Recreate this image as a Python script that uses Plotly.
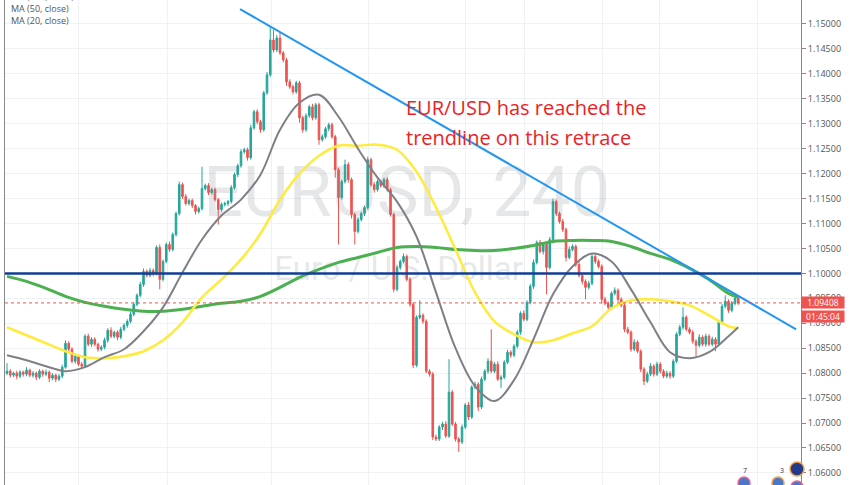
import plotly.graph_objects as go

# ---------------- data (EUR/USD, 240 min candles) ----------------
first_open = 1.0800
closes = [
    1.0804, 1.0796, 1.0800, 1.0794, 1.0802, 1.0798, 1.0806, 1.0796, 1.0800, 1.0792,
    1.0804, 1.0798, 1.0802, 1.0790, 1.0796, 1.0788, 1.0794, 1.0812, 1.0860, 1.0848,
    1.0824, 1.0834, 1.0818, 1.0814, 1.0874, 1.0858, 1.0868, 1.0858, 1.0848, 1.0852,
    1.0866, 1.0886, 1.0874, 1.0882, 1.0872, 1.0888, 1.0896, 1.0904, 1.0918, 1.0938,
    1.0956, 1.0978, 1.1004, 1.0996, 1.1006, 1.1000, 1.1052, 1.0988, 1.1024, 1.1058,
    1.1048, 1.1078, 1.1120, 1.1178, 1.1154, 1.1140, 1.1146, 1.1136, 1.1124, 1.1130,
    1.1170, 1.1176, 1.1162, 1.1168, 1.1148, 1.1128, 1.1138, 1.1140, 1.1144, 1.1172,
    1.1198, 1.1216, 1.1244, 1.1248, 1.1232, 1.1292, 1.1324, 1.1304, 1.1288, 1.1362,
    1.1398, 1.1468, 1.1448, 1.1472, 1.1442, 1.1428, 1.1384, 1.1374, 1.1364, 1.1382,
    1.1312, 1.1288, 1.1316, 1.1334, 1.1312, 1.1338, 1.1268, 1.1274, 1.1290, 1.1298,
    1.1274, 1.1208, 1.1152, 1.1184, 1.1218, 1.1188, 1.1118, 1.1084, 1.1108, 1.1120,
    1.1132, 1.1228, 1.1178, 1.1168, 1.1184, 1.1176, 1.1188, 1.1168, 1.1118, 1.0968,
    1.1012, 1.1024, 1.1034, 1.0988, 1.0938, 1.0816, 1.0912, 1.0916, 1.0904, 1.0804,
    1.0798, 1.0672, 1.0668, 1.0692, 1.0698, 1.0674, 1.0762, 1.0698, 1.0668, 1.0662,
    1.0692, 1.0736, 1.0712, 1.0772, 1.0778, 1.0732, 1.0788, 1.0804, 1.0824, 1.0804,
    1.0818, 1.0788, 1.0792, 1.0822, 1.0842, 1.0836, 1.0854, 1.0882, 1.0920, 1.0908,
    1.0942, 1.0974, 1.1022, 1.1062, 1.1044, 1.1058, 1.1012, 1.1068, 1.1144, 1.1120,
    1.1104, 1.1088, 1.1032, 1.1048, 1.1054, 1.1018, 1.0996, 1.0984, 1.0972, 1.0980,
    1.1034, 1.1024, 1.1014, 1.0948, 1.0940, 1.0932, 1.0960, 1.0966, 1.0948, 1.0936,
    1.0888, 1.0882, 1.0848, 1.0862, 1.0844, 1.0808, 1.0784, 1.0798, 1.0814, 1.0798,
    1.0818, 1.0804, 1.0794, 1.0800, 1.0794, 1.0824, 1.0878, 1.0892, 1.0912, 1.0888,
    1.0882, 1.0864, 1.0856, 1.0872, 1.0858, 1.0874, 1.0858, 1.0868, 1.0858, 1.0902,
    1.0934, 1.0944, 1.0926, 1.0940, 1.0950, 1.0941,
]
# wick lengths in pips above/below the candle body
upper_wick = [
    16, 4, 3, 5, 4, 3, 6, 3, 4, 3,
    4, 3, 5, 3, 4, 3, 4, 5, 6, 4,
    4, 5, 3, 4, 4, 5, 4, 4, 3, 4,
    5, 4, 6, 3, 4, 5, 4, 4, 5, 4,
    4, 5, 6, 4, 5, 4, 4, 6, 4, 4,
    6, 4, 4, 6, 4, 5, 4, 4, 3, 4,
    44, 4, 5, 4, 4, 3, 4, 4, 3, 5,
    4, 4, 5, 4, 4, 6, 4, 5, 4, 4,
    6, 26, 20, 6, 12, 4, 4, 5, 4, 4,
    4, 4, 5, 4, 6, 4, 4, 5, 4, 4,
    4, 4, 4, 4, 10, 5, 4, 4, 5, 4,
    4, 6, 4, 5, 4, 4, 4, 5, 4, 4,
    5, 4, 6, 4, 4, 4, 4, 30, 4, 4,
    4, 4, 5, 4, 4, 6, 66, 4, 4, 4,
    5, 4, 6, 4, 5, 4, 5, 4, 6, 64,
    4, 6, 4, 4, 5, 4, 4, 5, 4, 6,
    4, 5, 6, 4, 5, 4, 4, 5, 6, 4,
    4, 5, 4, 6, 4, 4, 5, 4, 4, 5,
    6, 4, 4, 4, 5, 4, 4, 6, 4, 4,
    4, 5, 4, 6, 4, 4, 4, 5, 6, 4,
    5, 4, 4, 5, 4, 4, 4, 5, 20, 4,
    4, 4, 4, 6, 4, 5, 4, 5, 4, 4,
    5, 12, 4, 5, 4, 4,
]
lower_wick = [
    4, 5, 4, 6, 4, 5, 4, 4, 5, 6,
    4, 5, 4, 8, 4, 6, 4, 4, 3, 4,
    4, 5, 4, 5, 4, 4, 5, 4, 5, 4,
    4, 5, 4, 4, 6, 4, 4, 5, 4, 4,
    4, 4, 5, 4, 4, 6, 4, 20, 4, 4,
    5, 4, 4, 4, 5, 4, 4, 5, 6, 4,
    4, 4, 5, 4, 4, 30, 4, 4, 5, 4,
    4, 5, 4, 4, 6, 4, 4, 5, 6, 4,
    4, 4, 5, 4, 4, 5, 8, 4, 5, 4,
    10, 6, 4, 4, 5, 4, 10, 4, 4, 5,
    4, 16, 94, 4, 4, 6, 8, 26, 4, 4,
    5, 4, 4, 6, 4, 4, 5, 4, 4, 6,
    4, 5, 4, 4, 5, 6, 4, 4, 5, 4,
    5, 6, 4, 4, 6, 4, 4, 4, 5, 20,
    4, 4, 6, 4, 4, 8, 4, 4, 5, 4,
    4, 4, 18, 4, 4, 5, 4, 4, 5, 4,
    4, 4, 5, 4, 4, 6, 54, 4, 4, 5,
    4, 5, 8, 4, 4, 5, 4, 6, 24, 4,
    4, 5, 4, 8, 4, 5, 4, 4, 5, 4,
    6, 4, 5, 4, 4, 6, 8, 4, 4, 5,
    4, 5, 4, 4, 5, 4, 4, 4, 5, 4,
    4, 5, 22, 4, 4, 5, 4, 4, 14, 4,
    4, 4, 5, 4, 4, 4,
]

# moving averages, sampled at candle indices
ma_idx = [0, 6, 12, 18, 24, 30, 36, 42, 48, 54, 60, 66, 72, 78, 84, 90, 96, 102, 108,
          114, 120, 126, 132, 138, 144, 150, 156, 162, 168, 174, 180, 186, 192, 198,
          204, 210, 216, 222, 225]
ma20 = [1.0836, 1.0826, 1.0814, 1.0804, 1.0812, 1.0832, 1.0848, 1.0884, 1.0932, 1.1002,
        1.1068, 1.1116, 1.1148, 1.1198, 1.1288, 1.1342, 1.1358, 1.1314, 1.1250, 1.1192,
        1.1144, 1.1074, 1.0962, 1.0850, 1.0774, 1.0744, 1.0786, 1.0868, 1.0958, 1.1014,
        1.1040, 1.1024, 1.0968, 1.0902, 1.0842, 1.0830, 1.0842, 1.0874, 1.0892]
ma50 = [1.0892, 1.0876, 1.0860, 1.0844, 1.0832, 1.0830, 1.0834, 1.0844, 1.0866, 1.0902,
        1.0952, 1.0988, 1.1028, 1.1080, 1.1148, 1.1200, 1.1236, 1.1256, 1.1256, 1.1258,
        1.1248, 1.1204, 1.1132, 1.1048, 1.0962, 1.0904, 1.0878, 1.0862, 1.0866, 1.0880,
        1.0894, 1.0930, 1.0946, 1.0948, 1.0944, 1.0936, 1.0916, 1.0894, 1.0890]
ma100 = [1.0994, 1.0984, 1.0970, 1.0954, 1.0942, 1.0934, 1.0928, 1.0924, 1.0924, 1.0928,
         1.0934, 1.0940, 1.0944, 1.0954, 1.0972, 1.0992, 1.1008, 1.1022, 1.1032, 1.1042,
         1.1052, 1.1054, 1.1052, 1.1048, 1.1046, 1.1046, 1.1050, 1.1056, 1.1064, 1.1066,
         1.1066, 1.1064, 1.1054, 1.1040, 1.1028, 1.1010, 1.0988, 1.0960, 1.0952]

trend_idx = [71.7, 242.8]
trend_price = [1.1530, 1.0888]
level = 1.1000
last_price = 1.09408
y_ticks = [1.060, 1.065, 1.070, 1.075, 1.080, 1.085, 1.090, 1.095, 1.100, 1.105,
           1.110, 1.115, 1.120, 1.125, 1.130, 1.135, 1.140, 1.145, 1.150]

# ---------------- build ----------------
n = len(closes)
idx = list(range(n))
opens = [first_open] + closes[:-1]
highs = [max(o, c) + u * 0.0001 for o, c, u in zip(opens, closes, upper_wick)]
lows = [min(o, c) - w * 0.0001 for o, c, w in zip(opens, closes, lower_wick)]

W, H = 852, 485
L, R = 5, 51
PW = W - L - R


def px(x):
    return (x - L) / PW


def py(y):
    return 1 - y / H


fig = go.Figure()

# watermark (behind candles)
fig.add_trace(go.Scatter(x=[123], y=[1.1150], mode="text", text=["EURUSD, 240"],
                         textfont=dict(family="Roboto", size=70, color="rgba(130,133,140,0.20)"),
                         hoverinfo="skip", showlegend=False))
fig.add_trace(go.Scatter(x=[120.5], y=[1.1004], mode="text", text=["Euro / U.S. Dollar"],
                         textfont=dict(family="Roboto", size=33, color="rgba(130,133,140,0.20)"),
                         hoverinfo="skip", showlegend=False))

fig.add_trace(go.Candlestick(
    x=idx, open=opens, high=highs, low=lows, close=closes,
    increasing=dict(line=dict(color="#26a69a", width=1), fillcolor="#26a69a"),
    decreasing=dict(line=dict(color="#ef5350", width=1), fillcolor="#ef5350"),
    whiskerwidth=0, showlegend=False, hoverinfo="skip"))

fig.add_trace(go.Scatter(x=ma_idx, y=ma100, mode="lines", line=dict(color="#4caf50", width=3, shape="spline", smoothing=1),
                         showlegend=False, hoverinfo="skip"))
fig.add_trace(go.Scatter(x=ma_idx, y=ma50, mode="lines", line=dict(color="#ffeb3b", width=2.5, shape="spline", smoothing=1),
                         showlegend=False, hoverinfo="skip"))
fig.add_trace(go.Scatter(x=ma_idx, y=ma20, mode="lines", line=dict(color="#7f7f88", width=2, shape="spline", smoothing=1),
                         showlegend=False, hoverinfo="skip"))
fig.add_trace(go.Scatter(x=trend_idx, y=trend_price, mode="lines", line=dict(color="#2196f3", width=2),
                         showlegend=False, hoverinfo="skip"))

# horizontal level and last price line
fig.add_shape(type="line", xref="paper", x0=0, x1=1, yref="y", y0=level, y1=level,
              line=dict(color="#113d96", width=2.5))
fig.add_shape(type="line", xref="paper", x0=0, x1=1, yref="y", y0=last_price, y1=last_price,
              line=dict(color="#ef5350", width=1, dash="dot"))

# price labels on axis
fig.add_annotation(xref="paper", x=1.0, xanchor="left", yref="y", y=last_price, text="1.09408",
                   showarrow=False, bgcolor="#ef5350", font=dict(color="white", size=8.5, family="Open Sans"),
                   width=42, height=11, borderpad=0, xshift=0)
fig.add_annotation(xref="paper", x=1.0, xanchor="left", yref="y", y=last_price, text="01:45:04",
                   showarrow=False, bgcolor="#ef5350", font=dict(color="white", size=8.5, family="Open Sans"),
                   width=42, height=11, borderpad=0, xshift=0, yshift=-14)

# red comment text
fig.add_annotation(xref="paper", yref="paper", x=px(404), y=py(107), xanchor="left", yanchor="middle",
                   text="EUR/USD has reached the", showarrow=False,
                   font=dict(family="Open Sans", size=20, color="#ee1d25"))
fig.add_annotation(xref="paper", yref="paper", x=px(404), y=py(137), xanchor="left", yanchor="middle",
                   text="trendline on this retrace", showarrow=False,
                   font=dict(family="Open Sans", size=20, color="#ee1d25"))

# legend texts (top-left)
for txt, yy in [("MA (100, close)", -4), ("MA (50, close)", 8), ("MA (20, close)", 21)]:
    fig.add_annotation(xref="paper", yref="paper", x=px(9), y=py(yy), xanchor="left", yanchor="middle",
                       text=txt, showarrow=False, font=dict(family="Open Sans", size=9, color="#555555"))

# small event icons bottom-right
for cx, cy, r, ring, fill in [(744, 483, 6, "#f06292", "#4a78c8"), (778, 483, 6, "#f5a04a", "#4a78c8"),
                               (797, 469, 7, "#f5a04a", "#233a8a"), (797, 487, 6, "#f06292", "#4a78c8")]:
    fig.add_shape(type="circle", xref="paper", yref="paper", x0=px(cx - r), x1=px(cx + r),
                  y0=py(cy + r), y1=py(cy - r), line=dict(color=ring, width=1.5), fillcolor=fill)
fig.add_annotation(xref="paper", yref="paper", x=px(749), y=py(477), text="7", showarrow=False,
                   font=dict(size=7, color="#333"))
fig.add_annotation(xref="paper", yref="paper", x=px(786), y=py(477), text="3", showarrow=False,
                   font=dict(size=7, color="#333"))

grid_idx = [21.85, 49.5, 81.5, 111.1, 141.2, 159.1, 183.1, 200.9, 230.8]

fig.update_layout(
    width=W, height=H,
    margin=dict(l=L, r=R, t=0, b=0, pad=0),
    paper_bgcolor="white", plot_bgcolor="white",
    showlegend=False,
    xaxis=dict(range=[-0.615, 244.3], rangeslider=dict(visible=False), tickmode="array", tickvals=grid_idx,
               showticklabels=False, showgrid=True, gridcolor="#eef1f6", gridwidth=1, zeroline=False,
               ticks="", showline=False, fixedrange=True),
    yaxis=dict(side="right", range=[1.05758, 1.15481], tickmode="array", tickvals=y_ticks,
               tickformat=".5f", showgrid=True, gridcolor="#eef1f6", gridwidth=1, zeroline=False,
               ticks="outside", ticklen=4, tickcolor="#888888", showline=True, linecolor="#888888",
               linewidth=1, mirror=True,
               tickfont=dict(family="Open Sans", size=9, color="#555555"), fixedrange=True),
)

fig.write_html("out.html", config={"displayModeBar": False},
               post_script="document.body.style.margin='0';document.body.style.overflow='hidden';")
